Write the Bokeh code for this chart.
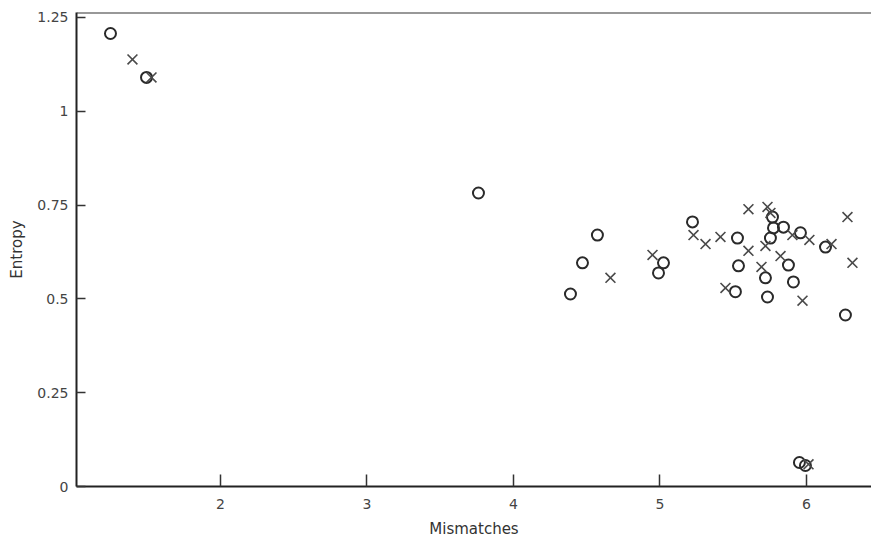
from bokeh.plotting import figure
from bokeh.models import FixedTicker, Range1d, Span
from bokeh.embed import file_html
from bokeh.resources import INLINE

# --- data ---
circle_x = [1.249, 1.495, 3.761, 4.573, 4.471, 4.389, 5.222, 5.529, 5.024, 4.990,
            5.768, 5.775, 5.843, 5.754, 5.959, 6.130, 5.536, 5.720, 5.877, 5.911,
            5.734, 5.515, 6.266, 5.952, 5.993]
circle_y = [1.207, 1.090, 0.782, 0.670, 0.596, 0.513, 0.705, 0.662, 0.596, 0.569,
            0.718, 0.689, 0.691, 0.662, 0.676, 0.638, 0.588, 0.556, 0.590, 0.545,
            0.505, 0.519, 0.457, 0.064, 0.056]

cross_x = [1.399, 1.529, 4.662, 4.949, 5.229, 5.311, 5.413, 5.604, 5.734, 5.754,
           5.720, 5.904, 6.020, 6.171, 6.280, 6.314, 5.604, 5.693, 5.823, 5.973,
           5.447, 6.014]
cross_y = [1.138, 1.090, 0.556, 0.617, 0.670, 0.646, 0.665, 0.739, 0.745, 0.729,
           0.641, 0.670, 0.657, 0.646, 0.718, 0.596, 0.628, 0.585, 0.614, 0.495,
           0.529, 0.059]

x_ticks = [2, 3, 4, 5, 6]
y_ticks = [0, 0.25, 0.5, 0.75, 1, 1.25]
y_tick_labels = ["0", "0.25", "0.5", "0.75", "1", "1.25"]

X_START, X_END = 1.017, 6.444
Y_START, Y_END = 0.0, 1.263

p = figure(width=871, height=540, output_backend="svg", toolbar_location=None,
           x_range=Range1d(X_START, X_END), y_range=Range1d(Y_START, Y_END),
           min_border_left=76, min_border_right=0, min_border_top=12, min_border_bottom=53,
           x_axis_label="Mismatches", y_axis_label="Entropy")

p.outline_line_color = None
p.grid.visible = False
p.background_fill_color = "white"
p.border_fill_color = "white"

top_line = Span(location=Y_END, dimension="width", line_color="#333333", line_width=2)
p.add_layout(top_line)

for ax in (p.xaxis[0], p.yaxis[0]):
    ax.axis_line_color = "#222222"
    ax.axis_line_width = 2
    ax.major_tick_line_color = "#333333"
    ax.major_tick_line_width = 1.5
    ax.major_tick_out = 0
    ax.minor_tick_line_color = None
    ax.major_label_text_font = "DejaVu Sans"
    ax.major_label_text_font_size = "14px"
    ax.major_label_text_color = "#444444"
    ax.axis_label_text_font = "DejaVu Sans"
    ax.axis_label_text_font_size = "15px"
    ax.axis_label_text_font_style = "normal"
    ax.axis_label_text_color = "#333333"

p.xaxis[0].ticker = FixedTicker(ticks=x_ticks)
p.xaxis[0].major_tick_in = 12
p.xaxis[0].major_label_standoff = 12
p.xaxis[0].axis_label_standoff = 8

p.yaxis[0].ticker = FixedTicker(ticks=y_ticks)
p.yaxis[0].major_label_overrides = {t: s for t, s in zip(y_ticks, y_tick_labels)}
p.yaxis[0].major_tick_in = 9
p.yaxis[0].major_label_standoff = 8
p.yaxis[0].axis_label_standoff = 8

p.scatter(circle_x, circle_y, marker="circle", size=11, fill_color=None,
          line_color="#2a2a2a", line_width=2)
p.scatter(cross_x, cross_y, marker="x", size=14, line_color="#4a4a4a", line_width=1.6)

open("out.html", "w").write(file_html(p, INLINE))
